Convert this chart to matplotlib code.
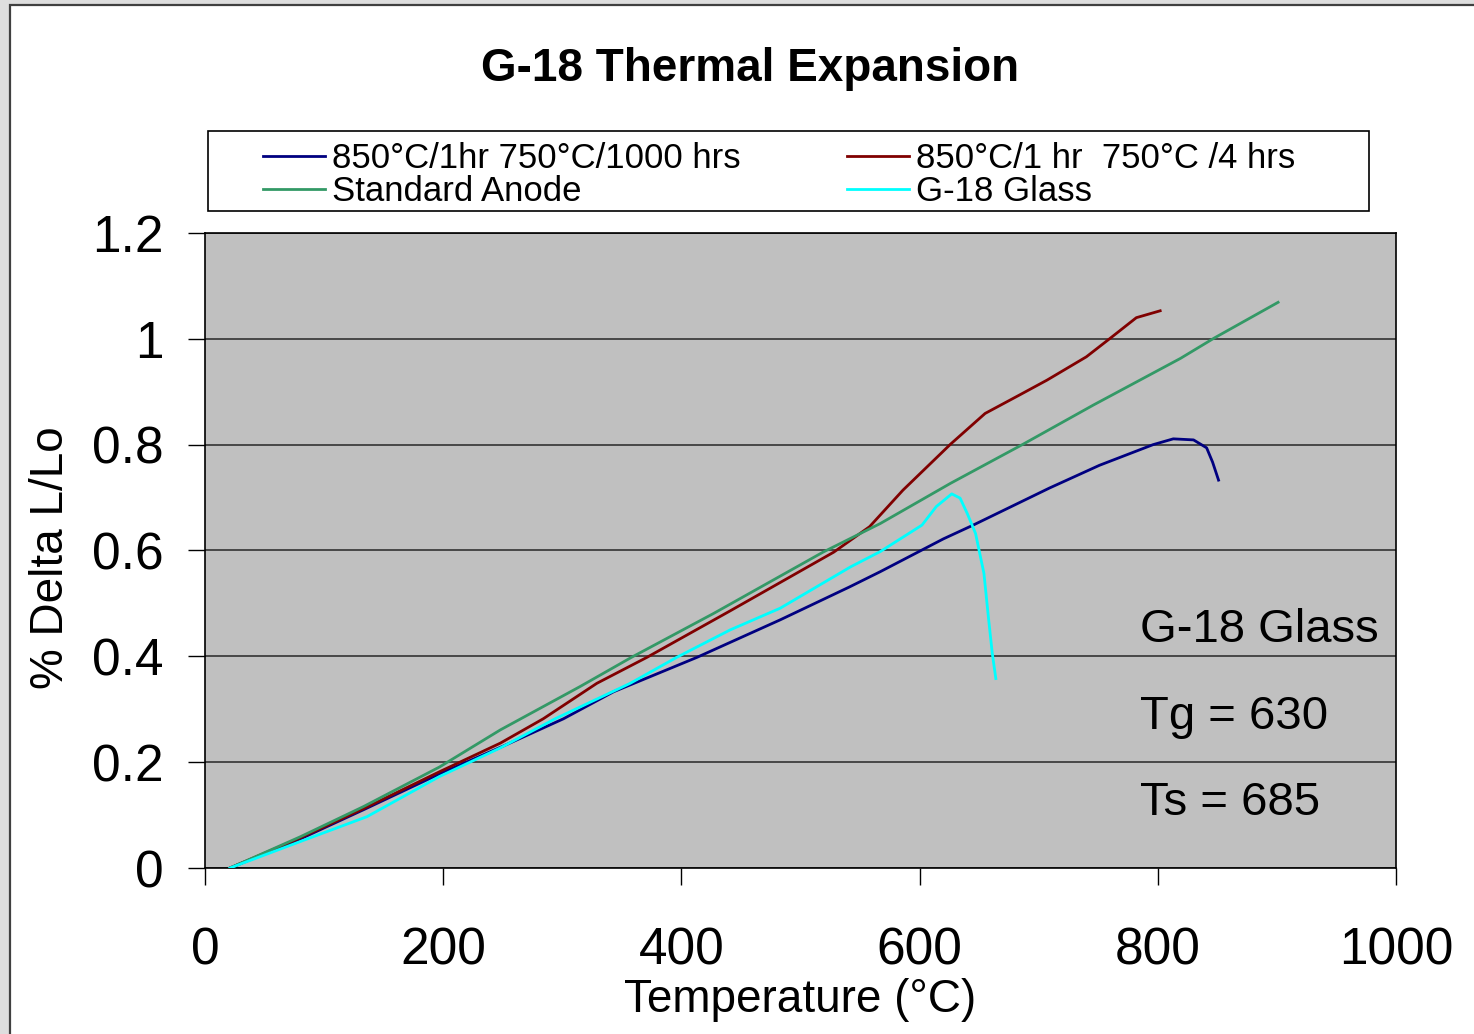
import matplotlib
matplotlib.use("Agg")
import matplotlib.pyplot as plt
from matplotlib.patches import Rectangle
from matplotlib.ticker import MultipleLocator, FuncFormatter

plt.rcParams['font.family'] = ['Liberation Sans', 'DejaVu Sans']

# Dilatometer curves: temperature (C) vs % delta L/Lo
t_1000h = [21, 80, 133, 197, 250, 301, 343, 413, 483, 541, 567, 620, 645, 709,
           751, 796, 813, 830, 841, 846, 851]
d_1000h = [0, 0.055, 0.110, 0.178, 0.230, 0.282, 0.333, 0.398, 0.469, 0.531,
           0.560, 0.622, 0.648, 0.718, 0.761, 0.800, 0.811, 0.809, 0.794, 0.767, 0.733]

t_4h = [21, 80, 133, 197, 248, 284, 329, 371, 441, 528, 558, 586, 626, 655,
        684, 707, 740, 760, 782, 802]
d_4h = [0, 0.057, 0.112, 0.182, 0.236, 0.282, 0.349, 0.398, 0.486, 0.597,
        0.645, 0.714, 0.801, 0.859, 0.894, 0.922, 0.966, 1.001, 1.040, 1.053]

t_anode = [21, 80, 133, 197, 248, 315, 358, 427, 519, 567, 626, 687, 746, 819, 847, 901]
d_anode = [0, 0.059, 0.116, 0.191, 0.261, 0.343, 0.398, 0.481, 0.597, 0.651,
           0.727, 0.801, 0.875, 0.963, 1.001, 1.069]

t_glass = [21, 80, 136, 197, 248, 294, 357, 396, 441, 483, 542, 567, 602, 614,
           627, 634, 640, 647, 654, 658, 661, 664]
d_glass = [0, 0.050, 0.097, 0.173, 0.227, 0.282, 0.349, 0.398, 0.450, 0.491,
           0.569, 0.598, 0.648, 0.683, 0.707, 0.699, 0.670, 0.632, 0.557, 0.469,
           0.406, 0.358]

W, H = 1474, 1034


def fx(px):
    return px / W


def fy(py):
    return 1 - py / H


fig = plt.figure(figsize=(W / 100, H / 100), dpi=100, facecolor='#dedede')

# white chart area with dark border
fig.patches.append(Rectangle((fx(10), -0.01), 1.0, fy(5) + 0.01,
                             transform=fig.transFigure, facecolor='white',
                             edgecolor='#404040', linewidth=1.6, zorder=-10))

ax = fig.add_axes([fx(205), fy(868), fx(1396) - fx(205), fy(233) - fy(868)])
ax.set_facecolor('#c0c0c0')

l1, = ax.plot(t_1000h, d_1000h, color='#000080', lw=2.0, zorder=3)
l2, = ax.plot(t_4h, d_4h, color='#800000', lw=2.0, zorder=3)
l3, = ax.plot(t_anode, d_anode, color='#339966', lw=2.0, zorder=3)
l4, = ax.plot(t_glass, d_glass, color='#00ffff', lw=2.0, zorder=3)

ax.set_xlim(0, 1000)
ax.set_ylim(0, 1.2)
ax.xaxis.set_major_locator(MultipleLocator(200))
ax.yaxis.set_major_locator(MultipleLocator(0.2))
ax.yaxis.set_major_formatter(FuncFormatter(lambda v, p: f'{v:g}'))
ax.yaxis.grid(True, color='#333333', linewidth=1.2)
ax.set_axisbelow(True)
for s in ax.spines.values():
    s.set_color('black')
    s.set_linewidth(1.2)

ax.tick_params(direction='out', length=12, width=1, labelsize=37)
ax.tick_params(axis='x', pad=30)
ax.tick_params(axis='y', pad=18)

ax.set_xlabel('Temperature (°C)', fontsize=33)
ax.set_ylabel('% Delta L/Lo', fontsize=33)
ax.xaxis.set_label_coords(0.4996, -0.174)
ax.yaxis.set_label_coords(-0.111, 0.488)

ax.text(785, 0.449, 'G-18 Glass', fontsize=34, va='center', ha='left')
ax.text(785, 0.285, 'Tg = 630', fontsize=34, va='center', ha='left')
ax.text(785, 0.122, 'Ts = 685', fontsize=34, va='center', ha='left')

fig.text(fx(750), fy(69), 'G-18 Thermal Expansion', ha='center', va='center',
         fontsize=33, fontweight='bold')

# legend box
fig.patches.append(Rectangle((fx(208), fy(211)), fx(1369) - fx(208), fy(131) - fy(211),
                             transform=fig.transFigure, facecolor='white',
                             edgecolor='black', linewidth=1.2, zorder=1))
fig.legend([l1, l3, l2, l4],
           ['850°C/1hr 750°C/1000 hrs', 'Standard Anode',
            '850°C/1 hr  750°C /4 hrs', 'G-18 Glass'],
           ncol=2, loc='center left', bbox_to_anchor=(fx(263), fy(175)),
           bbox_transform=fig.transFigure, frameon=False, borderpad=0,
           borderaxespad=0, fontsize=25, handlelength=1.79, handletextpad=0.2,
           columnspacing=3.05, labelspacing=0.0)

fig.savefig('out.png', dpi=100, facecolor=fig.get_facecolor())
